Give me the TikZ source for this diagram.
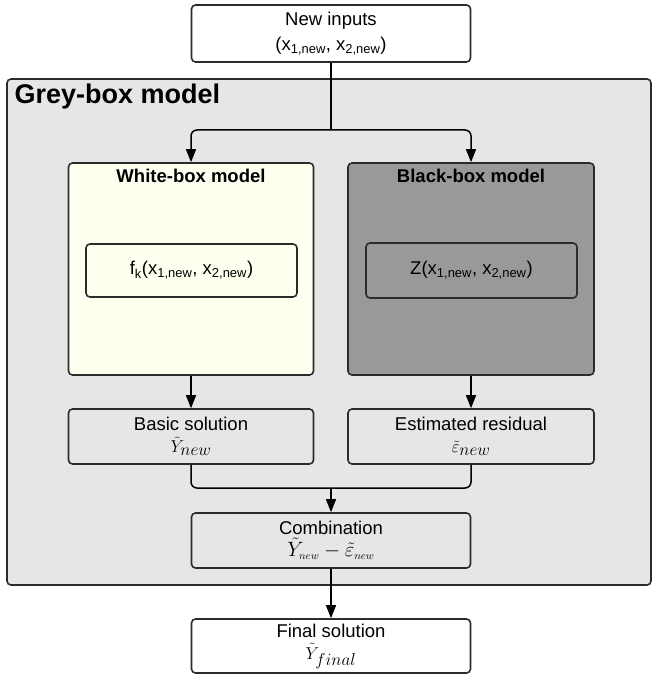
\documentclass[tikz,border=0pt]{standalone}
\usepackage[no-math]{fontspec}
\setmainfont{Liberation Sans}
\usetikzlibrary{arrows.meta}
\definecolor{greybg}{HTML}{E6E6E6}
\definecolor{ivorybox}{HTML}{FFFFF0}
\definecolor{bbgrey}{HTML}{999999}
\definecolor{edgecol}{HTML}{2B2B2B}
\newcommand{\mymath}[2]{{\fontsize{#1}{#1}\selectfont$#2$}}
\begin{document}
\begin{tikzpicture}[x=1pt,y=-1pt,
  box/.style={draw=edgecol, line width=1.6pt, rounded corners=4pt, inner sep=0pt},
  conn/.style={draw=black, line width=1.5pt, rounded corners=6pt},
  arr/.style={conn, -{Triangle[length=13pt,width=10pt]}},
  txt/.style={font=\fontsize{18.5}{25}\selectfont, align=center},
  ttl/.style={font=\fontsize{18.5}{22}\selectfont\bfseries}]
\useasboundingbox (0,0) rectangle (652,679);
% grey-box container
\node[box, fill=greybg, minimum width=644pt, minimum height=506pt] (grey) at (329,332) {};
\node[font=\fontsize{27}{30}\selectfont\bfseries, anchor=base west] (greyttl) at (11,104) {Grey-box model};
% new inputs
\node[box, fill=white, txt, minimum width=279pt, minimum height=57pt] (in) at (331,33.5)
  {New inputs\\(x\textsubscript{1,new}, x\textsubscript{2,new})};
% white-box model
\node[box, fill=ivorybox, minimum width=245pt, minimum height=212pt] (wb) at (191,269) {};
\node[ttl] (wbttl) at (191,176) {White-box model};
\node[box, fill=ivorybox, txt, minimum width=211pt, minimum height=53pt] (wf) at (191.5,270.5)
  {f\textsubscript{k}(x\textsubscript{1,new}, x\textsubscript{2,new})};
% black-box model
\node[box, fill=bbgrey, minimum width=246pt, minimum height=212pt] (bb) at (471,269) {};
\node[ttl] (bbttl) at (471,176) {Black-box model};
\node[box, fill=bbgrey, txt, minimum width=211pt, minimum height=55pt] (bz) at (471.5,270.5)
  {Z(x\textsubscript{1,new}, x\textsubscript{2,new})};
% outputs
\node[box, fill=greybg, txt, minimum width=245pt, minimum height=55pt] (bs) at (191,436.5)
  {Basic solution\\[-3pt]\mymath{19}{\tilde{Y}_{\textstyle new}}};
\node[box, fill=greybg, txt, minimum width=246pt, minimum height=55pt] (er) at (471,436.5)
  {Estimated residual\\[-3pt]\mymath{19}{\tilde{\varepsilon}_{\textstyle new}}};
\node[box, fill=greybg, txt, minimum width=279pt, minimum height=55pt] (comb) at (331,540.5)
  {Combination\\[-3pt]\mymath{22}{\tilde{Y}_{\scriptscriptstyle new}-\tilde{\varepsilon}_{\scriptscriptstyle new}}};
\node[box, fill=white, txt, minimum width=279pt, minimum height=54pt] (fin) at (331,646)
  {Final solution\\[-3pt]\mymath{19}{\tilde{Y}_{\textstyle final}}};
% connectors
\coordinate (split) at (331,130);
\coordinate (merge) at (331,488);
\draw[conn] (in.south) -- (split);
\draw[arr] (split) -| (wb.north);
\draw[arr] (split) -| (bb.north);
\draw[arr] (wb.south) -- (bs.north);
\draw[arr] (bb.south) -- (er.north);
\draw[conn] (bs.south) |- (merge);
\draw[conn] (er.south) |- (merge);
\draw[arr] (merge) -- (comb.north);
\draw[arr] (comb.south) -- (fin.north);
\end{tikzpicture}
\end{document}
